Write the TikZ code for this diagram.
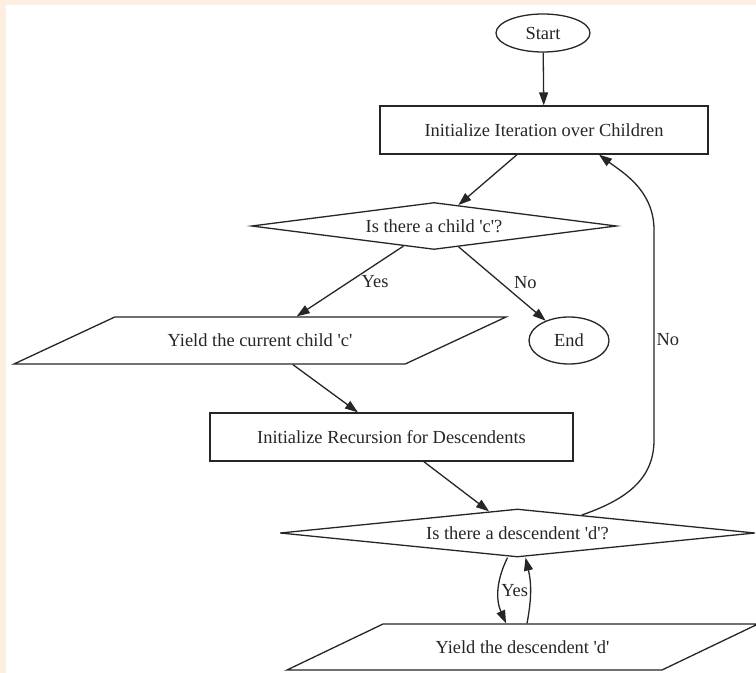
\documentclass[tikz,border=0pt]{standalone}
\usepackage{fontspec}
\setmainfont{Liberation Serif}[Ligatures=TeXOff]
\usetikzlibrary{shapes.geometric,arrows.meta,calc}
\definecolor{pagebg}{RGB}{252,239,226}
\tikzset{
  base/.style={draw=black!85, line width=1.3bp, font=\fontsize{18.5}{22}\selectfont, text=black!85},
  startstop/.style={base, ellipse, inner sep=0pt},
  process/.style={base, rectangle, inner sep=0pt},
  decision/.style={base, diamond, inner sep=0pt},
  io/.style={base, trapezium, trapezium stretches body=true, inner xsep=0pt, text height=14.5bp, text depth=2bp},
  flow/.style={-{Triangle[length=13bp,width=9bp]}, line width=1.3bp, black!85},
  elabel/.style={font=\fontsize{18.5}{22}\selectfont, text=black!85, inner sep=2bp}
}
\begin{document}
\begin{tikzpicture}[x=1bp,y=-1bp]
    % 背景
    \fill[pagebg] (0,0) rectangle (756,673);
    \fill[white] (6,5) rectangle (756,673);
    \useasboundingbox (0,0) rectangle (756,673);

    % 节点
    \node[startstop, minimum width=94bp, minimum height=38bp] (start) at (543,33) {Start};
    \node[process, minimum width=328bp, minimum height=48bp] (inititer) at (544,130) {Initialize Iteration over Children};
    \node[decision, aspect=7.7, minimum width=365bp, minimum height=47bp] (haschild) at (434,226) {Is there a child 'c'?};
    \node[io, trapezium left angle=25, trapezium right angle=155, inner ysep=15.25bp, minimum width=492bp] (yieldchild) at (260,340.5) {Yield the current child 'c'};
    \node[startstop, minimum width=80bp, minimum height=47bp] (finish) at (569,340.5) {End};
    \node[process, minimum width=363bp, minimum height=48bp] (initrec) at (391.5,437) {Initialize Recursion for Descendents};
    \node[decision, aspect=9.9, minimum width=475bp, minimum height=48bp] (hasdesc) at (517.5,533) {Is there a descendent 'd'?};
    \node[io, trapezium left angle=25.6, trapezium right angle=154.4, inner ysep=14.75bp, minimum width=471bp] (yielddesc) at (522.5,647) {Yield the descendent 'd'};

    % 连线
    \draw[flow] (start) -- (inititer);
    \draw[flow] ([xshift=-27bp]inititer.south) -- (haschild);
    \draw[flow] (haschild) -- node[elabel, pos=0.5, right=9bp] {Yes} (yieldchild);
    \draw[flow] (haschild) -- node[elabel, pos=0.48, right=11bp] {No} (finish);
    \draw[flow] (yieldchild) -- (initrec);
    \draw[flow] (initrec) -- (hasdesc);
    \draw[flow] ([xshift=-10bp]hasdesc.south) to[bend right=25] node[elabel, right] {Yes} ([xshift=-16.5bp]yielddesc.north);
    \draw[flow] ([xshift=4.5bp]yielddesc.north) to[bend right=12] ([xshift=8bp]hasdesc.south);

    % 回到外层循环
    \draw[flow] ($(hasdesc.north)!0.27!(hasdesc.east)$) .. controls (625,500) and (654,480) .. (654,440)
        -- node[elabel, pos=0.476, right] {No} (654,230)
        .. controls (654,190) and (622,172) .. ([xshift=55bp]inititer.south);
\end{tikzpicture}
\end{document}
